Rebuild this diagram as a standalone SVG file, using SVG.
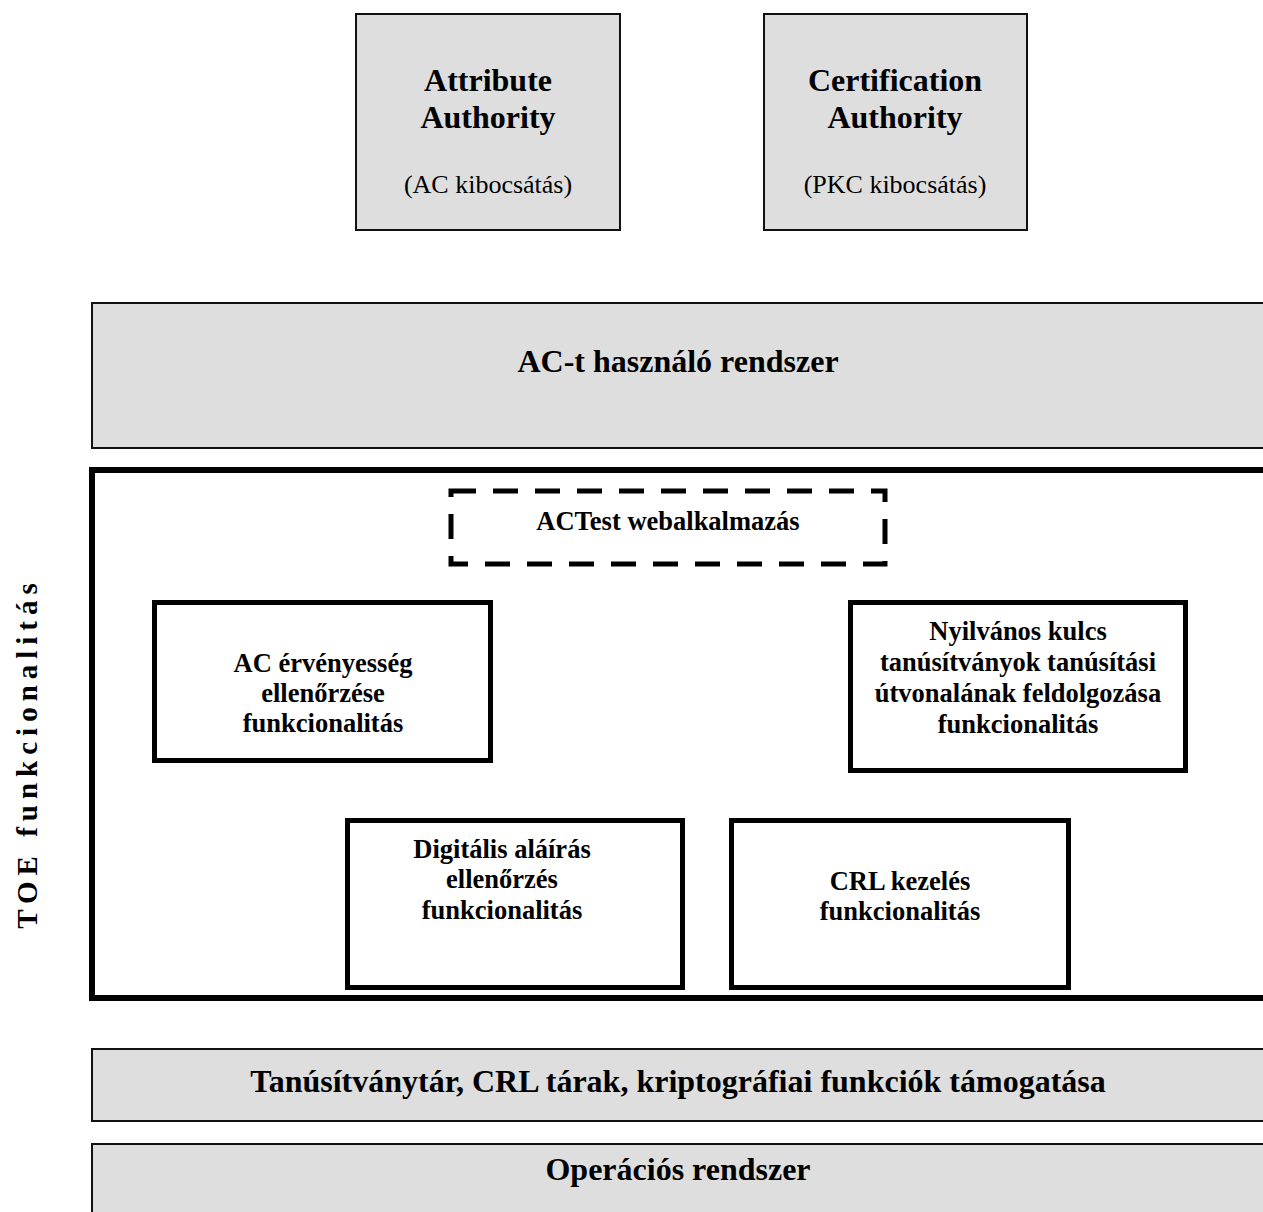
<svg xmlns="http://www.w3.org/2000/svg" width="1263" height="1212" viewBox="0 0 1263 1212">
<style>
.gray{fill:#dedede;stroke:#111;stroke-width:2}
.thick{fill:#fff;stroke:#000;stroke-width:5}
.dash{fill:none;stroke:#000;stroke-width:5;stroke-dasharray:25 17}
text{font-family:"Liberation Serif","Times New Roman",serif;fill:#000;text-anchor:middle}
.t{font-size:32px;font-weight:bold}
.s{font-size:26px}
.b{font-size:26.5px;font-weight:bold}
.v{font-size:29px;font-weight:bold;letter-spacing:6px}
</style>
<rect width="1263" height="1212" fill="#fff"/>
<g id="attribute-authority">
<rect class="gray" x="356" y="14" width="264" height="216"/>
<text class="t" x="488" y="91">Attribute</text>
<text class="t" x="488" y="128">Authority</text>
<text class="s" x="488" y="193">(AC kibocsátás)</text>
</g>
<g id="certification-authority">
<rect class="gray" x="764" y="14" width="263" height="216"/>
<text class="t" x="895" y="91">Certification</text>
<text class="t" x="895" y="128">Authority</text>
<text class="s" x="895" y="193">(PKC kibocsátás)</text>
</g>
<g id="ac-system">
<rect class="gray" x="92" y="303" width="1180" height="145"/>
<text class="t" x="678" y="372">AC-t használó rendszer</text>
</g>
<g id="toe">
<rect x="92" y="470" width="1180" height="528" fill="none" stroke="#000" stroke-width="6"/>
<text class="v" transform="translate(37,753) rotate(-90)">TOE funkcionalitás</text>
</g>
<g id="actest">
<rect class="dash" x="451" y="491" width="434" height="73"/>
<text class="b" x="668" y="530">ACTest webalkalmazás</text>
</g>
<g id="ac-validity">
<rect class="thick" x="154.5" y="602.5" width="336" height="158"/>
<text class="b" x="323" y="672">AC érvényesség</text>
<text class="b" x="323" y="702">ellenőrzése</text>
<text class="b" x="323" y="732">funkcionalitás</text>
</g>
<g id="pkc-path">
<rect class="thick" x="850.5" y="602.5" width="335" height="168"/>
<text class="b" x="1018" y="640">Nyilvános kulcs</text>
<text class="b" x="1018" y="671">tanúsítványok tanúsítási</text>
<text class="b" x="1018" y="702">útvonalának feldolgozása</text>
<text class="b" x="1018" y="733">funkcionalitás</text>
</g>
<g id="digital-signature">
<rect class="thick" x="347.5" y="820.5" width="335" height="167"/>
<text class="b" x="502" y="858">Digitális aláírás</text>
<text class="b" x="502" y="888">ellenőrzés</text>
<text class="b" x="502" y="919">funkcionalitás</text>
</g>
<g id="crl">
<rect class="thick" x="731.5" y="820.5" width="337" height="167"/>
<text class="b" x="900" y="890">CRL kezelés</text>
<text class="b" x="900" y="920">funkcionalitás</text>
</g>
<g id="cert-store">
<rect class="gray" x="92" y="1049" width="1180" height="72"/>
<text class="t" x="678" y="1092">Tanúsítványtár, CRL tárak, kriptográfiai funkciók támogatása</text>
</g>
<g id="os">
<rect class="gray" x="92" y="1144" width="1180" height="80"/>
<text class="t" x="678" y="1180">Operációs rendszer</text>
</g>
<g id="connectors"></g>
</svg>
